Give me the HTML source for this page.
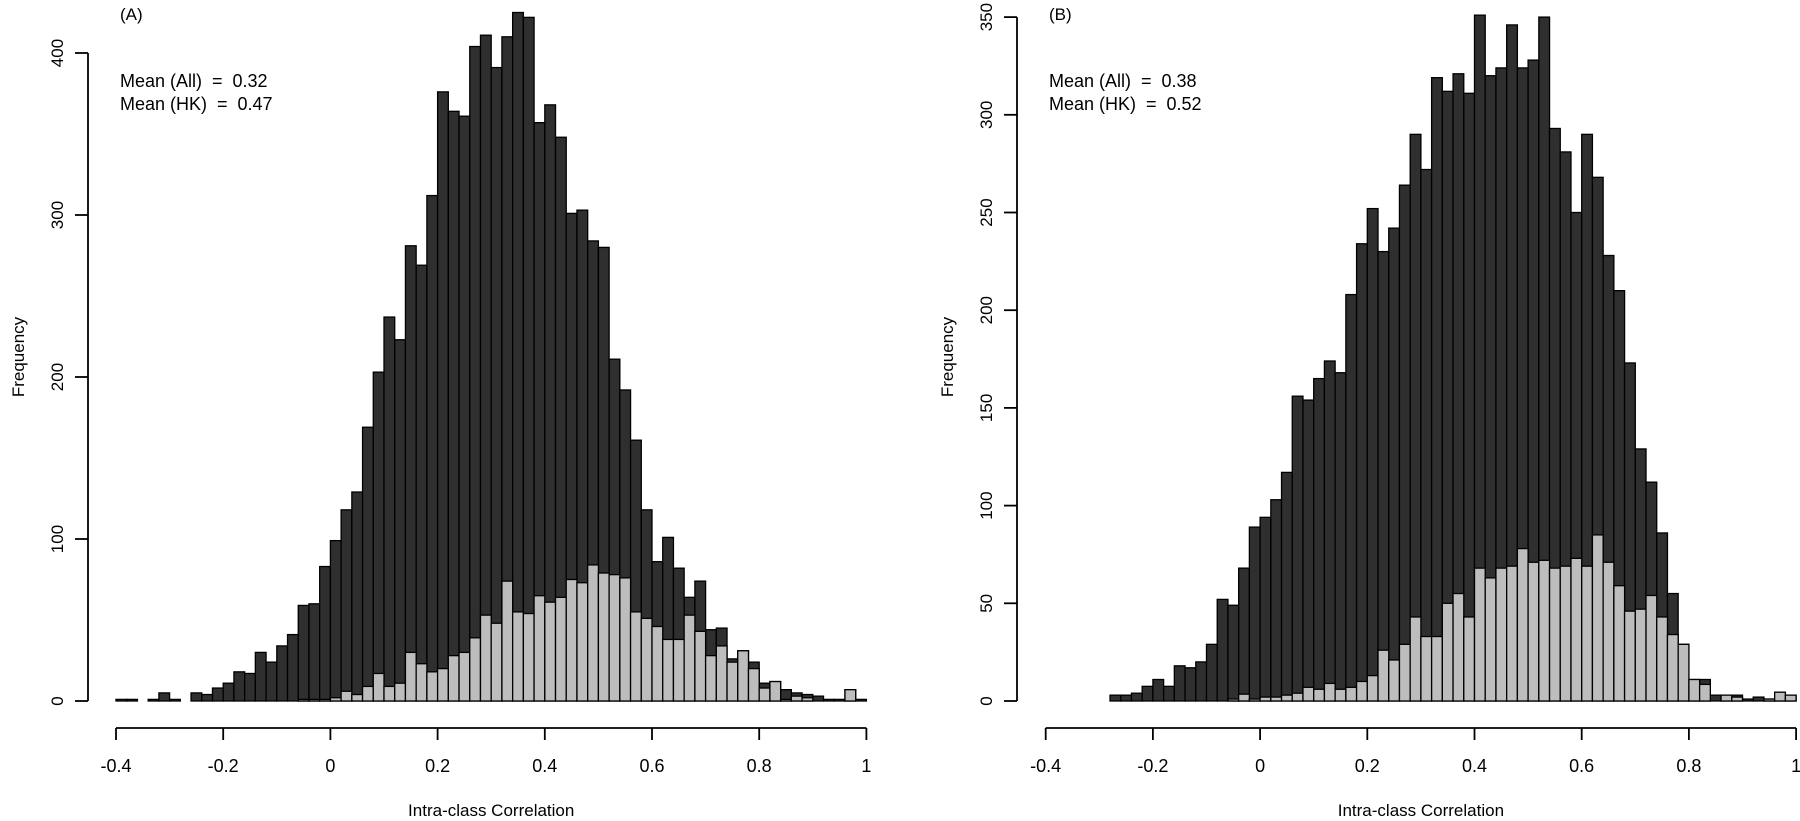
<!DOCTYPE html>
<html><head><meta charset="utf-8"><style>
html,body{margin:0;padding:0;background:#fff;}
svg{display:block;font-family:"Liberation Sans",Arial,sans-serif;}
</style></head><body>
<svg id="chart" width="1800" height="821" viewBox="0 0 1800 821" xmlns="http://www.w3.org/2000/svg"></svg>
<script>
// Panel A: bins of 0.02 from -0.4 to 1.0
const binStartA = -0.4;
const binWidth = 0.02;
const allCountsA = [1,1,0,1,5,1,0,5,4,8,11,18,17,30,24,34,41,59,60,83,99,118,129,169,203,237,223,281,269,312,376,364,361,404,411,391,410,425,422,357,368,348,301,303,284,280,211,192,161,118,86,101,82,64,74,44,45,26,31,24,11,12,7,5,4,3,1,1,7,1];
const hkCountsA = [0,0,0,0,0,0,0,0,0,0,0,0,0,0,0,0,0,1,1,1,2,6,4,9,17,9,11,30,23,18,20,28,30,39,53,48,74,55,54,65,61,64,75,73,84,79,78,76,55,51,46,38,38,53,43,28,34,24,31,20,8,12,1,3,2,0,0,0,7,0];
// Panel B: bins of 0.02 from -0.28 to 1.0
const binStartB = -0.28;
const allCountsB = [3,3,4,7.5,11,7.5,18,17,20,29,52,49,68,89,94,103,117,156,154,165,174,168,208,234,252,230,242,264,290,272,319,312,321,311,351,320,324,346,324,328,350,293,281,250,290,268,228,210,173,129,112,86,55,29,11,11,3,3,3,1,2,1,4.5,3];
const hkCountsB = [0,0,0,0,0,0,0,0,0,0,0,1,3.5,1,2,2,3,4,7,6,9,6,7,10,13,26,21,29,43,33,33,50,55,43,68,63,68,69,78,71,72,68,69,73,69,85,71,59,46,47,54,43,34,29,11,8.5,0,3,2,0,0,1,4.5,3];
const xTicks = [-0.4,-0.2,0,0.2,0.4,0.6,0.8,1];
const xTickLabels = ["-0.4","-0.2","0","0.2","0.4","0.6","0.8","1"];
const yTicksA = [0,100,200,300,400];
const yTicksB = [0,50,100,150,200,250,300,350];
const meanLabelsA = ["Mean (All)  =  0.32","Mean (HK)  =  0.47"];
const meanLabelsB = ["Mean (All)  =  0.38","Mean (HK)  =  0.52"];

const NS = "http://www.w3.org/2000/svg";
const svg = document.getElementById('chart');
function mk(tag, attrs, parent){
  const e = document.createElementNS(NS, tag);
  for (const k in attrs) e.setAttribute(k, attrs[k]);
  (parent||svg).appendChild(e);
  return e;
}

function panel(cfg){
  const g = mk('g', {});
  
  
  const xs = v => cfg.x0 + (v - (-0.4)) * cfg.ppu;
  const ys = c => cfg.yBase - c * cfg.ppc;

  // bars: all (dark), then HK (light) over them
  function drawBars(counts, start, fill, nm){
    const bg = mk('g', {}, g);
    
    
    counts.forEach((c, i) => {
      const lo = start + i * binWidth;
      const x1 = xs(lo), x2 = xs(lo + binWidth);
      const r = mk('rect', {x: x1, y: ys(c), width: x2 - x1, height: cfg.yBase - ys(c), fill: fill, stroke: '#000', 'stroke-width': 1.3}, bg);
      
      
    });
  }
  drawBars(cfg.all, cfg.start, '#2f2f2f', 'bars-all');
  drawBars(cfg.hk, cfg.start, '#bdbdbd', 'bars-hk');

  // x axis
  const xa = mk('g', {}, g);
  
  
  mk('line', {x1: xs(xTicks[0]), x2: xs(xTicks[xTicks.length-1]), y1: 728, y2: 728, stroke: '#000', 'stroke-width': 1.8}, xa);
  xTicks.forEach((t, i) => {
    mk('line', {x1: xs(t), x2: xs(t), y1: 728, y2: 740, stroke: '#000', 'stroke-width': 1.8}, xa);
    const tx = mk('text', {x: xs(t), y: 772, 'text-anchor': 'middle', 'font-size': 18}, xa);
    tx.textContent = xTickLabels[i];
    
    
  });
  const xt = mk('text', {x: (xs(-0.4) + xs(1)) / 2, y: 816, 'text-anchor': 'middle', 'font-size': 17}, g);
  xt.textContent = 'Intra-class Correlation';
  
  

  // y axis
  const ya = mk('g', {}, g);
  
  
  const yt = cfg.yTicks;
  mk('line', {x1: cfg.yAxisX, x2: cfg.yAxisX, y1: ys(yt[0]), y2: ys(yt[yt.length-1]), stroke: '#000', 'stroke-width': 1.8}, ya);
  yt.forEach(t => {
    mk('line', {x1: cfg.yAxisX - 13, x2: cfg.yAxisX, y1: ys(t), y2: ys(t), stroke: '#000', 'stroke-width': 1.8}, ya);
    const lx = cfg.yAxisX - 25;
    const tx = mk('text', {x: lx, y: ys(t), 'text-anchor': 'middle', 'font-size': 17, transform: 'rotate(-90 ' + lx + ' ' + ys(t) + ')'}, ya);
    tx.textContent = String(t);
    
    
  });
  const fx = cfg.yAxisX - 70, fy = 357;
  const ft = mk('text', {x: fx, y: fy, 'text-anchor': 'middle', 'font-size': 17, transform: 'rotate(-90 ' + fx + ' ' + fy + ')', dy: 6}, g);
  ft.textContent = 'Frequency';
  
  

  // labels
  const pl = mk('text', {x: cfg.yAxisX + 32, y: 20, 'font-size': 17}, g);
  pl.textContent = cfg.tag;
  
  
  cfg.means.forEach((m, i) => {
    const t = mk('text', {x: cfg.yAxisX + 32, y: 87 + i * 23, 'font-size': 18, 'xml:space': 'preserve'}, g);
    t.setAttribute('style', 'white-space:pre');
    t.textContent = m;
    
    
  });
}

panel({name: 'panel-a', x0: 116, ppu: 536, yBase: 701, ppc: 1.62, yAxisX: 88, yTicks: yTicksA, all: allCountsA, hk: hkCountsA, start: binStartA, tag: '(A)', means: meanLabelsA});
panel({name: 'panel-b', x0: 1045.7, ppu: 536, yBase: 701, ppc: 1.954, yAxisX: 1017, yTicks: yTicksB, all: allCountsB, hk: hkCountsB, start: binStartB, tag: '(B)', means: meanLabelsB});
</script>
</body></html>
